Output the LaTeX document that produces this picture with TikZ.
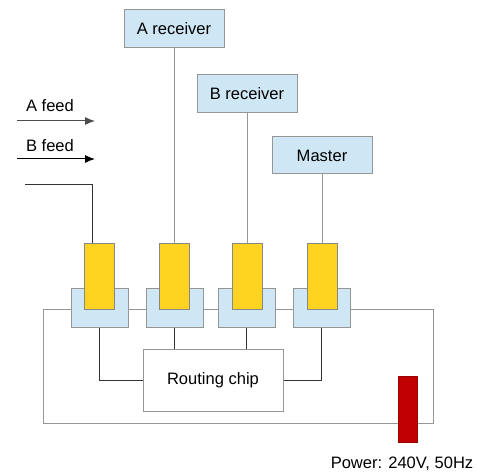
\documentclass[tikz,border=0pt]{standalone}
\usepackage{fontspec}
\setmainfont{Liberation Sans}
\usetikzlibrary{arrows.meta}

\definecolor{boxblue}{RGB}{207,231,245}
\definecolor{slotgold}{RGB}{255,211,32}
\definecolor{plugred}{RGB}{192,0,0}
\definecolor{edgegray}{RGB}{150,150,150}

\tikzset{
	unitbox/.style={draw=edgegray, fill=boxblue, minimum width=75pt, minimum height=28.5pt, inner sep=0pt, font=\fontsize{12.4}{15}\selectfont},
	socket/.style={draw=edgegray, fill=boxblue, minimum width=42.75pt, minimum height=28.5pt, inner sep=0pt},
	card/.style={draw=edgegray!90!black, fill=slotgold, minimum width=22.5pt, minimum height=48.75pt, inner sep=0pt},
	wire/.style={draw=black!80},
	thinwire/.style={draw=edgegray}
}
\tikzset{every picture/.style={line width=0.75pt}}

\begin{document}
\begin{tikzpicture}[x=0.75pt,y=0.75pt,yscale=-1,xscale=1]
	\useasboundingbox (0,0) rectangle (477,473);

	% board outline
	\draw [thinwire] (43,309) rectangle (433,423) ;

	% receivers
	\node [unitbox] (arecv) at (174,29) {A receiver};
	\node [unitbox] (brecv) at (247,94) {B receiver};
	\node [unitbox, minimum height=27.75pt] (master) at (322,155.5) {Master};

	% sockets and cards
	\node [socket] (sockA) at (99.5,308) {};
	\node [socket] (sockB) at (174.5,308) {};
	\node [socket] (sockC) at (246.5,308) {};
	\node [socket] (sockD) at (321.5,308) {};
	\node [card] (cardA) at (99,276.5) {};
	\node [card] (cardB) at (174,276.5) {};
	\node [card] (cardC) at (247,276.5) {};
	\node [card] (cardD) at (322,276.5) {};

	% routing chip
	\node [draw=edgegray, fill=white, minimum width=105pt, minimum height=46.5pt, inner sep=0pt, font=\fontsize{12.4}{15}\selectfont] (chip) at (213,380) {Routing chip};

	% power
	\node [fill=plugred, draw=plugred!80!black, minimum width=14.25pt, minimum height=49.5pt, inner sep=0pt] (plug) at (407.5,409) {};
	\node [font=\fontsize{12.4}{15}\selectfont] (power) at (402,464) {Power: 240V, 50Hz};

	% feeds
	\node [font=\fontsize{12.4}{15}\selectfont] (afeed) at (50,106) {A feed};
	\node [font=\fontsize{12.4}{15}\selectfont] (bfeed) at (50,146) {B feed};
	\coordinate (afeedS) at (17,121);
	\coordinate (afeedE) at (95,121);
	\coordinate (bfeedS) at (17,159);
	\coordinate (bfeedE) at (95,159);
	\draw [draw=black!70, -{Latex[length=7.5pt,width=6pt]}] (afeedS) -- (afeedE) ;
	\draw [draw=black, -{Latex[length=7.5pt,width=6pt]}] (bfeedS) -- (bfeedE) ;

	% cable into first card
	\coordinate (feedin) at (25,185);
	\coordinate (feedbend) at (92,185);
	\draw [wire] (feedin) -- (feedbend) -- (feedbend |- cardA.north) ;

	% receivers to cards
	\draw [thinwire] (arecv.south) -- (cardB.north) ;
	\draw [thinwire] (brecv.south) -- (cardC.north) ;
	\draw [thinwire] (master.south) -- (cardD.north) ;

	% sockets to chip
	\draw [wire] (sockA.south) |- (chip.west) ;
	\draw [wire] (sockB.south) -- (sockB.south |- chip.north) ;
	\draw [wire] (sockC.south) -- (sockC.south |- chip.north) ;
	\draw [wire] (sockD.south) |- (chip.east) ;

\end{tikzpicture}
\end{document}
